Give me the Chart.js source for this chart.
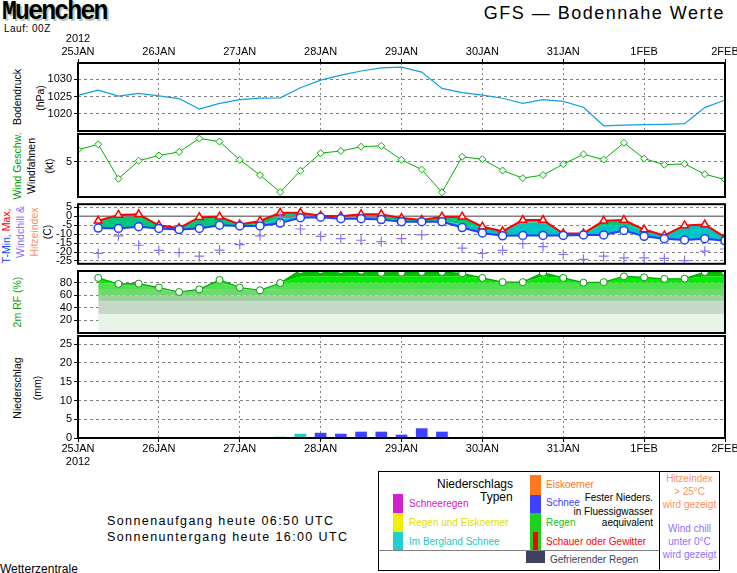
<!DOCTYPE html>
<html>
<head>
<meta charset="utf-8">
<script src="https://cdn.jsdelivr.net/npm/chart.js@4.4.1/dist/chart.umd.min.js"></script>
<style>
body { margin: 0; background: #fff; }
#page { position: relative; width: 737px; height: 573px; overflow: hidden; font-family: "Liberation Sans", Arial, sans-serif; color: #000; }
#page canvas { position: absolute; left: 0; }
.t { position: absolute; white-space: nowrap; font-size: 11px; line-height: 1; }
.rot { position: absolute; white-space: nowrap; font-size: 10.5px; line-height: 1; transform: translate(-50%, -50%) rotate(-90deg); }
.sw { position: absolute; }
.lg { position: absolute; white-space: nowrap; font-size: 10px; line-height: 1; }
</style>
</head>
<body>
<div id="page">
  <div class="t" style="left:2px;top:-3px;font:bold 27px 'Liberation Mono',monospace;letter-spacing:-2px;transform:scaleX(0.92);transform-origin:left top;text-shadow:2px 2px 0 #b8c8b8">Muenchen</div>
  <div class="t" style="left:4px;top:24px;font-size:10px;letter-spacing:0.5px">Lauf: 00Z</div>
  <div class="t" style="right:12px;top:4px;font-size:18px;letter-spacing:1.5px">GFS — Bodennahe Werte</div>

  <div class="rot" style="left:17px;top:97px">Bodendruck</div>
  <div class="rot" style="left:40px;top:98px">(hPa)</div>

  <div class="rot" style="left:17px;top:166px;color:#00a000">Wind Geschw.</div>
  <div class="rot" style="left:31px;top:166px">Windfahnen</div>
  <div class="rot" style="left:49px;top:166px">(kt)</div>

  <div class="rot" style="left:6px;top:236px"><span style="color:#2040ff">T-Min,</span> <span style="color:#ff0000">Max,</span></div>
  <div class="rot" style="left:20px;top:232px;color:#9070ff">Windchill &amp;</div>
  <div class="rot" style="left:34px;top:232px;color:#ff9060">Hitzeindex</div>
  <div class="rot" style="left:47px;top:232px">(C)</div>

  <div class="rot" style="left:17px;top:302px;color:#00a000">2m RF (%)</div>

  <div class="rot" style="left:17px;top:388px">Niederschlag</div>
  <div class="rot" style="left:37px;top:388px">(mm)</div>

  <canvas id="cPres" width="737" height="103" style="top:30px"></canvas>
  <canvas id="cWind" width="737" height="73" style="top:129px"></canvas>
  <canvas id="cTemp" width="737" height="72" style="top:198px"></canvas>
  <canvas id="cHum" width="737" height="72" style="top:266px"></canvas>
  <canvas id="cPrec" width="737" height="137" style="top:334px"></canvas>

  <div class="t" style="left:107px;top:515px;font-size:12.5px;letter-spacing:1.4px">Sonnenaufgang heute 06:50 UTC</div>
  <div class="t" style="left:107px;top:531px;font-size:12.5px;letter-spacing:1.4px">Sonnenuntergang heute 16:00 UTC</div>
  <div class="t" style="left:0px;top:563px;font-size:12px">Wetterzentrale</div>

  <!-- legend -->
  <div class="sw" style="left:378px;top:471px;width:340px;height:98px;border:1px solid #000"></div>
  <div class="sw" style="left:659px;top:471px;width:1px;height:99px;background:#000"></div>
  <div class="sw" style="left:379px;top:550px;width:280px;height:1px;background:#808080"></div>

  <div class="lg" style="left:437px;top:478px;font-size:12px">Niederschlags</div>
  <div class="lg" style="left:480px;top:491px;font-size:12px">Typen</div>

  <div class="sw" style="left:393px;top:494px;width:10px;height:19px;background:#d020d0"></div>
  <div class="sw" style="left:393px;top:513px;width:10px;height:19px;background:#f0f000"></div>
  <div class="sw" style="left:393px;top:532px;width:10px;height:18px;background:#20d0d0"></div>
  <div class="lg" style="left:409px;top:499px;color:#d020d0">Schneeregen</div>
  <div class="lg" style="left:409px;top:518px;color:#e0e000">Regen und Eiskoerner</div>
  <div class="lg" style="left:409px;top:537px;color:#20c8c8">Im Bergland Schnee</div>

  <div class="sw" style="left:530px;top:475px;width:11px;height:20px;background:#ff7820"></div>
  <div class="sw" style="left:530px;top:495px;width:11px;height:18px;background:#4040ff"></div>
  <div class="sw" style="left:530px;top:513px;width:11px;height:37px;background:#20d020"></div>
  <div class="sw" style="left:533px;top:532px;width:5px;height:18px;background:#ff0000"></div>
  <div class="sw" style="left:526px;top:551px;width:19px;height:12px;background:#404060"></div>
  <div class="lg" style="left:546px;top:480px;color:#ff7820">Eiskoerner</div>
  <div class="lg" style="left:546px;top:498px;color:#4040ff">Schnee</div>
  <div class="lg" style="left:546px;top:518px;color:#20c020">Regen</div>
  <div class="lg" style="left:546px;top:537px;color:#ff0000">Schauer oder Gewitter</div>
  <div class="lg" style="left:550px;top:555px;color:#404060">Gefrierender Regen</div>
  <div class="lg" style="right:84px;top:493px;text-align:right">Fester Nieders.</div>
  <div class="lg" style="right:84px;top:507px;text-align:right">in Fluessigwasser</div>
  <div class="lg" style="right:84px;top:518px;text-align:right">aequivalent</div>

  <div class="lg" style="left:660px;width:59px;text-align:center;top:474px;color:#ff9060">Hitzeindex</div>
  <div class="lg" style="left:660px;width:59px;text-align:center;top:487px;color:#ff9060">&gt; 25°C</div>
  <div class="lg" style="left:660px;width:59px;text-align:center;top:500px;color:#ff9060">wird gezeigt</div>
  <div class="lg" style="left:660px;width:59px;text-align:center;top:524px;color:#9070ff">Wind chill</div>
  <div class="lg" style="left:660px;width:59px;text-align:center;top:537px;color:#9070ff">unter 0°C</div>
  <div class="lg" style="left:660px;width:59px;text-align:center;top:550px;color:#9070ff">wird gezeigt</div>
</div>

<script>
// 6-hourly steps, 25JAN 00Z .. 2FEB 00Z (33 steps)
const dayLabels = ['25JAN', '26JAN', '27JAN', '28JAN', '29JAN', '30JAN', '31JAN', '1FEB', '2FEB'];
const yearLabel = '2012';

const pressure = [1025.3, 1026.8, 1025.1, 1025.9, 1025.2, 1024.4, 1021.4, 1023.0, 1024.1, 1024.5, 1024.6,
  1027.5, 1029.7, 1031.1, 1032.3, 1033.2, 1033.4, 1032.0, 1027.3, 1026.1, 1025.4, 1024.5, 1023.0,
  1024.1, 1023.6, 1021.9, 1016.6, 1016.8, 1016.9, 1017.0, 1017.2, 1021.8, 1024.0];
const pressureTicks = [1020, 1025, 1030];

const wind = [5.95, 6.38, 3.65, 5.08, 5.49, 5.78, 6.84, 6.6, 5.15, 3.94, 2.59, 4.28, 5.68, 5.85, 6.19,
  6.26, 5.15, 4.38, 2.57, 5.39, 5.2, 4.3, 3.7, 3.94, 4.81, 5.59, 5.17, 6.5, 5.25, 4.76, 4.83, 4.01, 3.58];
const windTicks = [5];

const tMax = [null, -2.5, 0.8, 1.1, -5.0, -6.6, -0.5, -0.2, -4.6, -2.6, 2.0, 2.0, 0.3, 0.0, 1.1, 1.1,
  -1.0, -2.1, -0.2, -0.2, -5.8, -8.4, -2.1, -2.1, -9.6, -9.6, -2.5, -2.1, -7.4, -10.7, -5.1, -4.6, -11.7];
const tMin = [null, -6.6, -6.8, -5.8, -6.8, -7.4, -6.8, -5.0, -5.4, -5.4, -3.8, -0.8, -0.5, -1.3, -1.3, -1.8,
  -3.0, -3.0, -3.0, -6.3, -9.3, -10.9, -10.7, -10.7, -10.7, -10.4, -10.4, -7.9, -11.2, -12.5, -13.2, -12.5, -13.7];
// border between the green and the teal shading
const tSplit = [null, -6.6, -6.8, -5.8, -6.8, -7.4, -6.8, -5.0, -5.4, -4.5, -1.3, -0.5, -0.3, -0.8, -0.8, -1.2,
  -2.5, -2.8, -2.5, -4.6, -5.8, -8.4, -3.5, -3.5, -9.6, -9.6, -5.0, -5.0, -7.4, -10.7, -5.1, -4.6, -11.7];
const windChill = [null, -20.8, -10.9, -16.2, -19.1, -20.3, -22.3, -18.9, -15.8, -10.9, -0.5, -7.1, -11.2, -12.5,
  -13.4, -14.2, -12.5, -10.4, null, -17.8, -20.8, -19.1, -15.3, -17.0, -21.4, -24.1, -22.3, -23.3, -23.3,
  -23.6, -24.8, -19.5, -18.3];
const tempTicks = [5, 0, -5, -10, -15, -20, -25];

const humidity = [null, 87.6, 78, 78.5, 72.3, 65.2, 69.5, 84.3, 72.3, 68, 79.5, 100, 100, 100, 99, 95.7,
  96, 97, 97, 94.7, 87.6, 80.9, 80.9, 96, 87.6, 80, 80.9, 90, 88.6, 86.1, 86.4, 97, 97];
const humidityTicks = [20, 40, 60, 80];
const humidityBands = [30, 50, 60, 70, 80, 90, 100];
const bandColors = ['#e8f4e8', '#c8d8c8', '#a0d0a0', '#70d870', '#50e050', '#00ec00', '#00c000'];

const precip = [null, null, null, null, null, null, null, null, null, null, 0.25, 1.05, 1.3, 1.05, 1.6, 1.6,
  0.8, 2.5, 1.6, null, null, null, null, null, null, null, null, null, null, null, null, null, null];
const precipType = [null, null, null, null, null, null, null, null, null, null, 'bergschnee', 'bergschnee',
  'schnee', 'schnee', 'schnee', 'schnee', 'schnee', 'schnee', 'schnee', null, null, null, null, null, null,
  null, null, null, null, null, null, null, null];
const precipTicks = [0, 5, 10, 15, 20, 25];
const typeColors = { bergschnee: '#20c8c8', schnee: '#4040ff' };

const steps = pressure.map((_, i) => i);
const FONT = { family: '"Liberation Sans", Arial, sans-serif', size: 11 };

const framePlugin = {
  id: 'frame',
  beforeDatasetsDraw(chart, args, opts) {
    if (!opts.zero) return;
    const { ctx, chartArea: a } = chart;
    const y = chart.scales.y.getPixelForValue(0);
    ctx.save();
    ctx.strokeStyle = '#808080';
    ctx.lineWidth = 1.5;
    ctx.beginPath();
    ctx.moveTo(a.left, y);
    ctx.lineTo(a.right, y);
    ctx.stroke();
    ctx.restore();
  },
  afterDatasetsDraw(chart) {
    const { ctx, chartArea: a } = chart;
    ctx.save();
    ctx.strokeStyle = '#000';
    ctx.lineWidth = 2;
    ctx.strokeRect(a.left, a.top, a.right - a.left, a.bottom - a.top);
    ctx.restore();
  }
};

function xScale(pos, labels, gridLines) {
  return {
    type: 'linear', min: 0, max: 32, position: pos, display: labels || gridLines, offset: false,
    afterBuildTicks: ax => { ax.ticks = dayLabels.map((d, k) => ({ value: k * 4 })); },
    afterFit: ax => { ax.height = labels ? 33 : 0; ax.paddingLeft = 0; ax.paddingRight = 0; },
    ticks: {
      display: labels, autoSkip: false, maxRotation: 0, padding: 0, color: '#000', font: FONT,
      callback: v => {
        const k = Math.round(v / 4);
        if (k === 0) return pos === 'top' ? [yearLabel, dayLabels[0]] : [dayLabels[0], yearLabel];
        return dayLabels[k];
      }
    },
    grid: { display: gridLines, offset: false, drawTicks: labels, tickLength: 4, tickColor: '#000', color: '#808080', lineWidth: 1 },
    border: { display: false, dash: [2, 3] }
  };
}

function yScale(min, max, ticks) {
  return {
    min: min, max: max,
    afterBuildTicks: ax => { ax.ticks = ticks.map(v => ({ value: v })); },
    afterFit: ax => { ax.width = 78; ax.paddingTop = 0; ax.paddingBottom = 0; },
    ticks: { color: '#000', font: FONT, padding: 2, autoSkip: false, callback: v => String(v) },
    grid: { color: '#808080', tickColor: '#000', tickLength: 4, lineWidth: 1 },
    border: { display: false, dash: [3, 3] }
  };
}

function baseOptions(padding, x, y) {
  return {
    responsive: false, animation: false, devicePixelRatio: 1,
    layout: { padding: padding },
    scales: { x: x, y: y },
    plugins: { legend: { display: false }, tooltip: { enabled: false }, frame: {} }
  };
}

// pressure
new Chart(document.getElementById('cPres'), {
  type: 'line',
  data: {
    labels: steps,
    datasets: [{ data: pressure, borderColor: '#10a0e0', borderWidth: 1.2, pointRadius: 0, tension: 0 }]
  },
  options: baseOptions({ top: 0, bottom: 2, left: 0, right: 12 }, xScale('top', true, true),
    yScale(1015.1, 1034.6, pressureTicks)),
  plugins: [framePlugin]
});

// wind
new Chart(document.getElementById('cWind'), {
  type: 'line',
  data: {
    labels: steps,
    datasets: [{
      data: wind, borderColor: '#00b000', borderWidth: 1, tension: 0,
      pointStyle: 'rectRot', pointRadius: 3.5, pointBackgroundColor: '#fff', pointBorderColor: '#00b000', pointBorderWidth: 1
    }]
  },
  options: baseOptions({ top: 2, bottom: 2, left: 0, right: 12 }, xScale('bottom', false, false),
    yScale(2.2, 7.2, windTicks)),
  plugins: [framePlugin]
});

// temperature
const tempOpts = baseOptions({ top: 2, bottom: 2, left: 0, right: 12 }, xScale('bottom', false, false),
  yScale(-26.6, 6.8, tempTicks));
tempOpts.plugins.frame = { zero: true };
tempOpts.plugins.filler = { drawTime: 'beforeDatasetsDraw' };
new Chart(document.getElementById('cTemp'), {
  type: 'line',
  data: {
    labels: steps,
    datasets: [
      { data: windChill, showLine: false, pointStyle: 'cross', pointRadius: 5, borderColor: '#9070ff', borderWidth: 1.2 },
      {
        data: tMin, borderColor: '#2040ff', borderWidth: 2, tension: 0, fill: false,
        pointStyle: 'circle', pointRadius: 4, pointBackgroundColor: '#fff', pointBorderColor: '#2040ff', pointBorderWidth: 1.5
      },
      {
        data: tMax, borderColor: '#ff0000', borderWidth: 2, tension: 0, fill: '+1', backgroundColor: '#00c878',
        pointStyle: 'triangle', pointRadius: 4.5, pointBackgroundColor: '#fff', pointBorderColor: '#ff0000', pointBorderWidth: 1.5
      },
      { data: tSplit, borderWidth: 0, pointRadius: 0, tension: 0, fill: '-2', backgroundColor: '#00c4c4' }
    ]
  },
  options: tempOpts,
  plugins: [framePlugin]
});

// relative humidity
const humOpts = baseOptions({ top: 2, bottom: 2, left: 0, right: 12 }, xScale('bottom', false, false),
  yScale(0, 98.6, humidityTicks));
humOpts.plugins.filler = { drawTime: 'beforeDatasetsDraw' };
const bandSets = humidityBands.map((top, k) => ({
  data: humidity.map(v => v == null ? null : Math.min(v, top)),
  borderWidth: 0, pointRadius: 0, tension: 0,
  fill: k === 0 ? 'origin' : '-1', backgroundColor: bandColors[k]
}));
new Chart(document.getElementById('cHum'), {
  type: 'line',
  data: {
    labels: steps,
    datasets: [{
      data: humidity, borderColor: '#00a800', borderWidth: 1.2, tension: 0, fill: false,
      pointStyle: 'circle', pointRadius: 3.5, pointBackgroundColor: '#fff', pointBorderColor: '#00a000', pointBorderWidth: 1
    }].concat(bandSets)
  },
  options: humOpts,
  plugins: [framePlugin]
});

// precipitation
new Chart(document.getElementById('cPrec'), {
  type: 'bar',
  data: {
    labels: steps,
    datasets: [{
      data: precip, barThickness: 11, grouped: false,
      backgroundColor: precipType.map(t => typeColors[t] || 'rgba(0,0,0,0)')
    }]
  },
  options: baseOptions({ top: 2, bottom: 0, left: 0, right: 12 }, xScale('bottom', true, true),
    yScale(0, 27.2, precipTicks)),
  plugins: [framePlugin]
});
</script>
</body>
</html>
